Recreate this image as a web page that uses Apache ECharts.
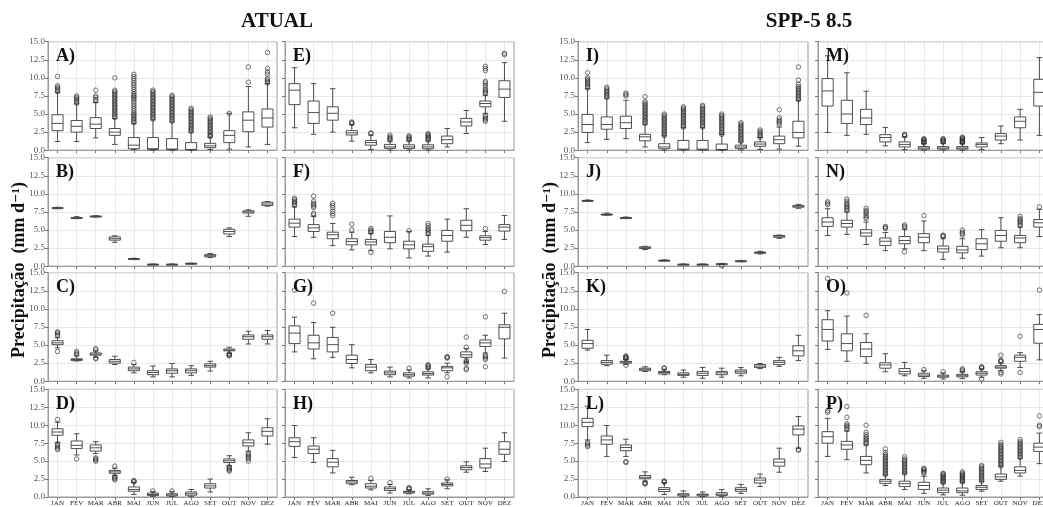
<!DOCTYPE html>
<html><head><meta charset="utf-8">
<script src="https://cdn.jsdelivr.net/npm/echarts@6/dist/echarts.min.js"></script>
<style>html,body{margin:0;padding:0;background:#fff;overflow:hidden;width:1043px;height:507px}#c{width:1060px;height:507px}</style>
</head><body><div id="c"></div>
<script>
const months = ['JAN','FEV','MAR','ABR','MAI','JUN','JUL','AGO','SET','OUT','NOV','DEZ'];
const groupTitles = ['ATUAL', 'SPP-5 8.5'];
const yTitle = 'Precipitação  (mm d⁻¹)';
const panelLetters = ['A)','B)','C)','D)','E)','F)','G)','H)','I)','J)','K)','L)','M)','N)','O)','P)'];

// each box: [lower whisker, Q1, median, Q3, upper whisker]
const boxA = [[1.2,2.7,3.7,4.9,8.0],[1.2,2.5,3.3,4.1,6.4],[1.7,3.0,3.6,4.5,6.6],[0.8,2.05,2.5,3.0,4.4],[0.1,0.2,0.7,1.75,3.7],[0.0,0.1,0.2,1.75,4.2],[0.0,0.1,0.15,1.6,3.9],[0.0,0.05,0.1,1.05,2.5],[0.1,0.35,0.6,0.95,1.8],[0.15,1.05,2.05,2.7,5.1],[0.45,2.55,4.15,5.3,8.8],[0.8,3.2,4.45,5.7,9.2]];
const outA = [[8.1,8.3,8.5,8.7,8.9,10.2],[6.5,6.7,6.9,7.1,7.3,7.5],[6.8,7.0,7.3,7.5,8.3],
 [4.5,4.7,4.9,5.1,5.3,5.5,5.7,5.9,6.1,6.3,6.5,6.7,6.9,7.1,7.3,7.5,7.7,7.9,8.1,8.3,10.0],
 [3.8,4.0,4.2,4.4,4.6,4.8,5.0,5.2,5.5,5.8,6.1,6.4,6.7,7.0,7.2,7.4,7.6,7.8,8.1,8.4,8.7,9.0,9.3,9.6,9.9,10.2,10.5],
 [4.3,4.5,4.7,4.9,5.1,5.3,5.5,5.7,5.9,6.1,6.3,6.5,6.7,6.9,7.1,7.3,7.5,7.7,7.9,8.1,8.3],
 [4.0,4.2,4.4,4.6,4.8,5.0,5.2,5.4,5.6,5.8,6.0,6.2,6.4,6.6,6.8,7.0,7.2,7.4,7.6],
 [2.6,2.8,3.0,3.2,3.4,3.6,3.8,4.0,4.2,4.4,4.6,4.8,5.0,5.2,5.4,5.6,5.8],
 [1.9,2.0,2.2,2.4,2.6,2.8,3.0,3.2,3.4,3.6,3.8,4.0,4.2,4.4,4.6],
 [5.1],[9.4,11.5],[9.3,9.5,9.7,9.9,10.5,10.8,11.3,13.5]];

const boxB = [[7.95,8.0,8.05,8.1,8.15],[6.6,6.63,6.67,6.72,6.85],[6.82,6.86,6.9,6.93,6.97],[3.3,3.6,3.8,4.05,4.2],[0.95,0.98,1.02,1.06,1.1],[0.2,0.22,0.25,0.28,0.3],[0.2,0.22,0.25,0.28,0.31],[0.32,0.35,0.37,0.4,0.42],[1.2,1.3,1.45,1.6,1.75],[4.1,4.45,4.8,5.1,5.3],[6.9,7.35,7.5,7.65,7.8],[8.3,8.4,8.6,8.85,8.95]];
const outB = [[],[],[],[],[],[],[],[],[],[],[],[]];

const boxC = [[4.6,5.05,5.3,5.6,6.0],[2.8,2.85,3.0,3.1,3.5],[3.3,3.6,3.75,3.9,4.2],[2.3,2.5,2.75,3.0,3.45],[1.15,1.45,1.7,1.95,2.3],[0.6,0.9,1.2,1.45,2.1],[0.6,1.1,1.45,1.7,2.45],[0.8,1.15,1.45,1.7,2.15],[1.4,1.95,2.15,2.4,2.75],[3.85,4.2,4.3,4.45,4.7],[5.15,5.8,6.15,6.4,6.9],[5.15,5.8,6.15,6.4,7.0]];
const outC = [[6.3,6.5,6.7,6.8,4.1],[3.7,3.9,4.1],[4.3,4.5,3.1,3.2],[],[2.6],[],[],[],[],[3.5,3.6,3.7,3.8],[],[]];

const boxD = [[7.6,8.6,9.05,9.5,10.4],[5.85,6.75,7.2,7.8,8.8],[6.05,6.4,6.85,7.25,7.7],[3.0,3.3,3.5,3.7,4.0],[0.35,0.8,1.05,1.4,2.05],[0.1,0.2,0.35,0.55,0.75],[0.05,0.15,0.3,0.45,0.75],[0.05,0.25,0.45,0.7,1.05],[0.7,1.25,1.55,1.85,2.5],[4.35,4.8,5.05,5.3,5.75],[6.4,7.1,7.55,7.95,8.95],[7.35,8.5,9.15,9.65,10.9]];
const outD = [[10.8,6.6,6.8,7.0,7.2,7.4],[5.3],[5.0,5.15,5.3,5.45],[4.3,2.4,2.55,2.7,2.85],[2.1,2.2,2.3],[0.85],[0.85],[],[],[3.6,3.75,3.9,4.05,4.2],[5.0,5.3,5.5,5.7,5.9,6.1],[]];

const boxE = [[3.1,6.3,8.3,9.2,11.4],[2.2,3.7,5.2,6.8,9.2],[2.5,4.15,5.1,6.0,8.5],[1.25,2.1,2.4,2.7,3.5],[0.1,0.7,1.05,1.35,2.1],[0.0,0.25,0.45,0.8,1.25],[0.0,0.25,0.45,0.75,1.3],[0.0,0.2,0.45,0.75,1.3],[0.45,0.9,1.45,1.95,3.0],[2.3,3.35,3.9,4.4,5.5],[5.1,6.0,6.45,6.8,7.6],[4.0,7.3,8.45,9.6,12.1]];
const outE = [[],[],[],[3.7,3.8,3.9],[2.3,2.4],[1.4,1.55,1.7,1.85,2.1],[1.4,1.55,1.7,1.85,2.0],[1.4,1.55,1.7,1.85,2.0,2.15,2.3],[],[],[7.8,8.0,8.2,8.4,8.7,9.0,9.3,9.5,11.0,11.3,11.6,4.0,4.2,4.4,4.6,4.8],[13.2,13.4]];

const boxF = [[4.1,5.4,5.95,6.5,8.2],[4.0,4.8,5.3,5.75,6.9],[2.85,3.8,4.35,4.7,5.9],[2.25,2.95,3.4,3.8,4.7],[2.2,2.95,3.35,3.7,4.5],[2.4,3.25,4.0,4.8,6.95],[1.15,2.4,2.95,3.45,4.8],[1.4,2.05,2.7,3.05,4.25],[1.95,3.45,4.25,4.95,6.5],[4.0,4.9,5.65,6.35,7.95],[3.0,3.6,3.95,4.2,4.8],[3.7,4.85,5.4,5.75,7.0]];
const outF = [[8.4,8.6,8.8,9.0,9.2,9.4],[7.1,7.3,8.1,8.3,8.5,8.7,9.0,9.7],[7.0,7.3,7.6,8.1,8.4,8.7],[5.0,5.8],[4.7,4.85,5.0,5.2,1.9],[],[4.9],[4.5,4.7,4.9,5.1,5.3,5.6,5.9],[],[],[5.2],[]];

const boxG = [[4.05,5.2,6.65,7.65,8.85],[3.1,4.45,5.3,6.35,8.1],[3.3,4.05,5.05,6.05,7.45],[1.85,2.45,3.0,3.6,5.05],[1.15,1.45,1.95,2.3,3.0],[0.6,0.9,1.15,1.4,1.95],[0.45,0.7,0.9,1.15,1.55],[0.45,0.85,1.05,1.3,1.7],[1.15,1.45,1.85,2.05,2.5],[2.6,3.3,3.65,4.05,4.5],[3.9,4.8,5.3,5.7,6.35],[3.2,5.85,7.45,7.8,9.4]];
const outG = [[12.6],[10.8],[9.4],[],[],[],[1.8],[1.85,2.0,2.15,2.3],[3.2,3.3,3.4,0.6],[4.7,6.1,2.5,2.7,2.9,1.6,1.8],[8.9,3.0,3.2,3.4,3.6,2.0],[12.4]];

const boxH = [[5.5,7.05,7.7,8.25,9.95],[4.8,6.05,6.65,7.1,8.25],[3.35,4.2,4.85,5.35,6.5],[1.7,1.85,2.1,2.3,2.75],[1.0,1.25,1.5,1.85,2.3],[0.55,0.9,1.15,1.4,1.75],[0.45,0.55,0.7,0.8,1.0],[0.2,0.4,0.55,0.75,1.15],[1.15,1.55,1.75,1.95,2.4],[3.45,3.8,4.1,4.35,4.9],[3.55,4.05,4.6,5.35,6.8],[4.95,5.95,6.65,7.7,8.95]];
const outH = [[],[],[],[],[2.6],[2.0],[1.1,1.2,1.3],[],[2.5],[],[],[]];

const boxI = [[1.05,2.45,3.55,4.95,8.5],[1.5,2.9,3.55,4.6,7.2],[1.6,3.0,3.8,4.7,6.9],[0.45,1.3,1.85,2.2,3.6],[0.0,0.2,0.45,0.9,2.0],[0.0,0.05,0.15,1.35,3.1],[0.0,0.05,0.15,1.35,3.1],[0.0,0.05,0.1,0.85,2.2],[0.05,0.25,0.45,0.7,1.15],[0.1,0.55,0.85,1.15,1.75],[0.15,0.9,1.45,1.95,3.2],[0.55,1.7,2.45,4.0,6.9]];
const outI = [[8.6,8.8,9.0,9.2,9.4,9.6,9.8,10.0,10.7],[7.3,7.5,7.7,7.9,8.1,8.3,8.5,8.7],[7.5,7.7,7.9],
 [3.7,3.9,4.1,4.3,4.5,4.7,4.9,5.1,5.3,5.5,5.7,5.9,6.1,6.3,6.5,6.7,7.4],
 [2.0,2.2,2.4,2.6,2.8,3.0,3.2,3.4,3.6,3.8,4.0,4.2,4.4,4.6,4.8,5.0],
 [3.2,3.4,3.6,3.8,4.0,4.2,4.4,4.6,4.8,5.0,5.2,5.4,5.6,5.8,6.0],
 [3.2,3.4,3.6,3.8,4.0,4.2,4.4,4.6,4.8,5.0,5.2,5.4,5.6,5.8,6.0,6.2],
 [2.2,2.4,2.6,2.8,3.0,3.2,3.4,3.6,3.8,4.0,4.2,4.4,4.6,4.8,5.0],
 [1.2,1.4,1.6,1.8,2.0,2.2,2.4,2.6,2.8,3.0,3.2,3.4,3.6,3.8],
 [1.8,2.0,2.2,2.4,2.6,2.8],[3.6,3.8,4.0,4.2,4.5,5.6],
 [7.0,7.2,7.4,7.6,7.8,8.0,8.2,8.4,8.6,8.8,9.1,9.7,11.5]];

const boxJ = [[9.0,9.03,9.07,9.1,9.15],[7.05,7.1,7.15,7.2,7.35],[6.6,6.63,6.68,6.72,6.8],[2.3,2.45,2.55,2.68,2.75],[0.75,0.77,0.8,0.83,0.87],[0.2,0.22,0.25,0.28,0.3],[0.2,0.22,0.25,0.28,0.3],[0.22,0.26,0.3,0.34,0.38],[0.62,0.66,0.7,0.75,0.8],[1.7,1.78,1.88,1.95,2.05],[3.85,4.0,4.15,4.25,4.3],[8.0,8.15,8.3,8.4,8.55]];
const outJ = [[],[],[],[],[],[],[],[0.05],[],[],[],[]];

const boxK = [[4.3,4.55,5.2,5.65,7.15],[2.15,2.35,2.6,2.85,3.6],[2.3,2.5,2.65,2.75,3.0],[1.35,1.45,1.65,1.8,2.0],[0.9,1.0,1.2,1.35,1.65],[0.55,0.8,0.95,1.15,1.55],[0.4,0.8,1.1,1.35,1.9],[0.55,0.9,1.15,1.35,1.8],[0.75,1.1,1.3,1.55,1.9],[1.75,1.9,2.1,2.3,2.45],[2.05,2.3,2.6,2.85,3.3],[2.85,3.5,4.2,4.9,6.35]];
const outK = [[],[],[3.1,3.2,3.3,3.4,3.5,2.2],[],[1.75,1.85],[],[],[],[],[],[],[]];

const boxL = [[7.95,9.8,10.4,10.95,12.65],[5.65,7.35,7.95,8.5,9.95],[5.65,6.45,6.9,7.25,8.05],[2.2,2.55,2.75,3.0,3.5],[0.35,0.75,1.05,1.3,2.0],[0.05,0.15,0.3,0.45,0.85],[0.05,0.15,0.3,0.4,0.7],[0.05,0.2,0.4,0.6,1.05],[0.5,0.8,1.05,1.3,1.75],[1.45,1.95,2.35,2.65,3.2],[3.45,4.3,4.85,5.3,6.8],[6.8,8.65,9.45,9.9,11.2]];
const outL = [[7.0,7.2,7.4,7.6],[],[4.8,4.95],[1.8,1.9,2.0],[2.05,2.15,2.25],[],[],[],[],[],[],[6.5,6.65]];

const boxM = [[2.45,6.1,8.2,9.9,13.05],[2.05,3.7,5.0,6.9,10.7],[2.2,3.55,4.45,5.65,8.15],[0.6,1.15,1.75,2.15,3.15],[0.1,0.45,0.8,1.15,1.85],[0.0,0.15,0.3,0.5,0.9],[0.0,0.15,0.3,0.5,0.95],[0.0,0.15,0.3,0.5,0.95],[0.1,0.45,0.8,1.0,1.75],[0.9,1.4,1.95,2.3,3.35],[1.4,3.1,4.0,4.6,5.65],[2.05,6.1,8.0,9.8,12.8]];
const outM = [[],[],[],[],[2.0,2.1,2.2],[1.0,1.1,1.2,1.3,1.4,1.5,1.6],[1.1,1.2,1.3,1.4,1.5,1.6],[1.0,1.1,1.2,1.3,1.4,1.5,1.6,1.7,1.8],[],[],[],[]];

const boxN = [[4.25,5.5,6.1,6.7,7.95],[4.4,5.4,5.9,6.35,7.5],[3.0,4.15,4.6,5.05,6.1],[2.15,2.85,3.45,3.9,4.65],[2.4,3.1,3.55,4.1,5.1],[2.15,3.25,4.0,4.5,6.25],[0.95,1.95,2.4,2.8,3.8],[1.1,1.85,2.25,2.75,3.8],[1.4,2.3,3.1,3.8,5.05],[2.55,3.45,4.25,4.95,6.7],[2.55,3.25,3.9,4.25,5.4],[4.1,5.4,6.0,6.45,7.85]];
const outN = [[8.5,8.7,8.9],[7.7,7.9,8.1,8.3,8.5,8.7,9.0,9.3],[6.6,6.8,7.0,7.3,7.5,7.7,8.0],[5.2,5.35,5.5],[5.3,5.5,5.7,2.0],[7.0],[4.1,4.2,4.3],[4.3,4.5,4.7,5.0],[],[],[5.6,5.8,6.0,6.2,6.4,6.6,6.9],[8.2]];

const boxO = [[4.4,5.55,7.15,8.5,9.75],[2.75,4.2,5.2,6.55,9.0],[2.5,3.4,4.45,5.35,6.55],[1.3,1.8,2.25,2.55,3.8],[0.75,1.0,1.35,1.75,2.6],[0.4,0.65,0.85,1.1,1.45],[0.3,0.55,0.7,0.85,1.15],[0.35,0.6,0.75,0.95,1.3],[0.55,0.85,1.1,1.3,1.7],[1.45,1.8,1.95,2.15,2.5],[1.9,2.75,3.3,3.6,3.95],[2.95,5.25,7.15,7.85,9.2]];
const outO = [[14.2],[12.2],[9.1],[],[],[1.6],[1.3],[1.4,1.55,1.7],[1.8,1.9,2.0,0.3],[2.7,2.8,2.9,3.6,1.0,1.2],[6.2,1.2],[12.6]];

const boxP = [[5.65,7.5,8.4,9.1,10.95],[5.2,6.65,7.25,7.75,9.2],[3.35,4.5,5.1,5.65,7.25],[1.6,1.9,2.2,2.45,3.1],[1.05,1.45,1.85,2.2,3.3],[0.5,1.05,1.6,2.05,2.9],[0.3,0.6,0.95,1.25,1.95],[0.25,0.6,0.85,1.25,2.05],[0.8,1.05,1.35,1.6,2.2],[2.2,2.45,2.8,3.2,4.3],[2.9,3.35,3.7,4.2,5.4],[4.65,6.35,6.95,7.5,8.9]];
const outP = [[11.8,12.0],[9.4,9.6,9.8,10.0,10.2,11.1,12.6],[7.4,7.6,7.8,8.0,8.2,8.4,8.7,9.0,10.0],
 [3.1,3.3,3.5,3.7,3.9,4.1,4.3,4.5,4.7,4.9,5.1,5.3,5.5,5.7,5.9,6.2,6.7],
 [3.3,3.5,3.7,3.9,4.1,4.3,4.5,4.7,4.9,5.1,5.3,5.6],
 [3.3,3.45,3.6,3.75,3.9,4.0],
 [2.0,2.15,2.3,2.45,2.6,2.75,2.9,3.05,3.2,3.3],
 [2.1,2.25,2.4,2.55,2.7,2.85,3.0,3.15,3.3,3.5],
 [2.2,2.4,2.6,2.8,3.0,3.2,3.4,3.6,3.8,4.0,4.2,4.4],
 [4.3,4.5,4.7,4.9,5.1,5.3,5.5,5.7,5.9,6.1,6.3,6.5,6.7,6.9,7.1,7.3,7.6],
 [5.5,5.7,5.9,6.1,6.3,6.5,6.7,6.9,7.1,7.3,7.5,7.7,8.0],
 [9.8,10.0,11.3]];

const panelBoxes = [boxA,boxB,boxC,boxD,boxE,boxF,boxG,boxH,boxI,boxJ,boxK,boxL,boxM,boxN,boxO,boxP];
const panelOutliers = [outA,outB,outC,outD,outE,outF,outG,outH,outI,outJ,outK,outL,outM,outN,outO,outP];

// layout (canvas is wider than the window so the last column is clipped like the reference)
const colLeft = [48, 285, 578, 818];
const colWidth = [229, 229, 230, 231];
const rowTop = [41.7, 157.7, 272.7, 389.3];
const panelH = 108.5;
const SERIF = '"Liberation Serif", "DejaVu Serif", serif';

function renderBox(params, api) {
  const i = api.value(0);
  const yLo = api.coord([i, api.value(1)])[1];
  const yQ1 = api.coord([i, api.value(2)])[1];
  const pMd = api.coord([i, api.value(3)]);
  const yQ3 = api.coord([i, api.value(4)])[1];
  const yHi = api.coord([i, api.value(5)])[1];
  const x = pMd[0];
  const band = api.size([1, 0])[0];
  const bw = band * 0.58, cw = bw * 0.5;
  const st = {stroke: '#3c3c3c', lineWidth: 0.9, fill: null};
  return {type: 'group', children: [
    {type: 'line', shape: {x1: x, y1: yQ1, x2: x, y2: yLo}, style: st},
    {type: 'line', shape: {x1: x, y1: yQ3, x2: x, y2: yHi}, style: st},
    {type: 'line', shape: {x1: x - cw/2, y1: yLo, x2: x + cw/2, y2: yLo}, style: st},
    {type: 'line', shape: {x1: x - cw/2, y1: yHi, x2: x + cw/2, y2: yHi}, style: st},
    {type: 'rect', shape: {x: x - bw/2, y: yQ3, width: bw, height: Math.max(yQ1 - yQ3, 1)},
      style: {stroke: '#3c3c3c', lineWidth: 0.9, fill: '#fff'}},
    {type: 'line', shape: {x1: x - bw/2, y1: pMd[1], x2: x + bw/2, y2: pMd[1]}, style: st}
  ]};
}

const grids = [], xAxes = [], yAxes = [], series = [], graphics = [];
for (let p = 0; p < 16; p++) {
  const col = Math.floor(p / 4), row = p % 4;
  grids.push({left: colLeft[col], top: rowTop[row], width: colWidth[col], height: panelH,
    show: true, borderColor: '#9a9a9a', borderWidth: 1, backgroundColor: 'transparent'});
  xAxes.push({type: 'category', gridIndex: p, data: months, boundaryGap: true,
    axisLine: {show: true, lineStyle: {color: '#9a9a9a'}},
    axisTick: {show: true, alignWithLabel: true, interval: 0, length: 3, lineStyle: {color: '#777'}},
    axisLabel: {show: row === 3, interval: 0, fontSize: 7, color: '#222', fontFamily: SERIF, margin: 3},
    splitLine: {show: true, alignWithLabel: true, interval: 0, lineStyle: {color: '#e2e2e2', width: 0.8}}});
  yAxes.push({type: 'value', gridIndex: p, min: 0, max: 15, interval: 2.5,
    axisLine: {show: true, lineStyle: {color: '#9a9a9a'}},
    axisTick: {show: true, length: 3, lineStyle: {color: '#777'}},
    axisLabel: {show: col === 0 || col === 2, fontSize: 9, color: '#555', fontFamily: SERIF, margin: 3,
      formatter: v => v.toFixed(1)},
    splitLine: {show: true, lineStyle: {color: '#e2e2e2', width: 0.8}}});
  series.push({type: 'custom', xAxisIndex: p, yAxisIndex: p, renderItem: renderBox,
    encode: {x: 0, y: [1, 2, 3, 4, 5]},
    data: panelBoxes[p].map((b, i) => [i].concat(b)), z: 2});
  const outs = [];
  panelOutliers[p].forEach((arr, i) => arr.forEach(v => outs.push([i, v])));
  series.push({type: 'scatter', xAxisIndex: p, yAxisIndex: p, data: outs, symbol: 'circle', symbolSize: 4.5,
    itemStyle: {color: 'transparent', borderColor: '#2a2a2a', borderWidth: 0.8}, z: 3});
  graphics.push({type: 'text', left: colLeft[col] + 8, top: rowTop[row] + 6,
    style: {text: panelLetters[p], font: 'bold 18px ' + SERIF, fill: '#111'}, z: 10});
}

graphics.push({type: 'text', x: 277, y: 22, style: {text: groupTitles[0], font: 'bold 21px ' + SERIF, fill: '#111', textAlign: 'center', textVerticalAlign: 'middle'}});
graphics.push({type: 'text', x: 809, y: 22, style: {text: groupTitles[1], font: 'bold 21px ' + SERIF, fill: '#111', textAlign: 'center', textVerticalAlign: 'middle'}});
graphics.push({type: 'text', x: 19, y: 270, rotation: Math.PI / 2, style: {text: yTitle, font: 'bold 18px ' + SERIF, fill: '#111', textAlign: 'center', textVerticalAlign: 'middle'}});
graphics.push({type: 'text', x: 550, y: 270, rotation: Math.PI / 2, style: {text: yTitle, font: 'bold 18px ' + SERIF, fill: '#111', textAlign: 'center', textVerticalAlign: 'middle'}});

const chart = echarts.init(document.getElementById('c'), null, {renderer: 'canvas'});
chart.setOption({animation: false, backgroundColor: '#fff', grid: grids, xAxis: xAxes, yAxis: yAxes, series: series, graphic: graphics});
</script></body></html>
